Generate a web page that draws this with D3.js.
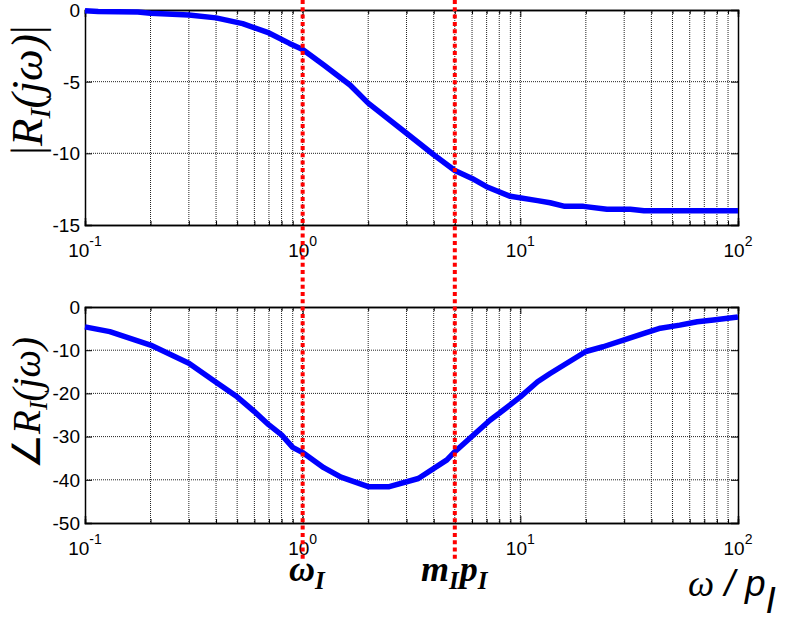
<!DOCTYPE html>
<html><head><meta charset="utf-8">
<script src="https://cdn.jsdelivr.net/npm/d3@7"></script>
<style>body{margin:0;background:#fff}svg{display:block}</style>
</head><body>
<svg id="c" width="793" height="623"></svg>
<script>
// ---- data ----
const magOmega = [0.1,0.115,0.175,0.2,0.3,0.4,0.53,0.7,0.87,1,1.25,1.65,2,3,4,5,6,7,9,12,13.7,16,19.5,25,32,37,100];
const magValues = [-0.05,-0.1,-0.14,-0.23,-0.35,-0.55,-0.95,-1.6,-2.33,-2.75,-3.84,-5.23,-6.5,-8.6,-10.1,-11.2,-11.75,-12.33,-13.0,-13.3,-13.45,-13.7,-13.7,-13.9,-13.9,-14.0,-14.0];
const phaseOmega = [0.1,0.13,0.2,0.27,0.3,0.4,0.5,0.6,0.7,0.8,0.9,1,1.25,1.5,2,2.5,3.4,4.6,5,7.25,8,10,12,13.7,20,24,30,37,44,54,65,77,100];
const phaseValues = [-4.6,-5.7,-8.8,-11.9,-13.0,-17.4,-20.8,-24.2,-27.3,-29.6,-32.5,-33.7,-37.2,-39.4,-41.6,-41.6,-39.7,-35.4,-33.5,-26.2,-24.6,-20.8,-17.3,-15.4,-10.3,-9.2,-7.6,-6.1,-4.9,-4.2,-3.4,-3.0,-2.3];
const magTicks = [0,-5,-10,-15];
const phaseTicks = [0,-10,-20,-30,-40,-50];
const decadeTicks = [0.1,1,10,100];
const decadeExponents = ["-1","0","1","2"];
const markers = [1,5];

const svg = d3.select("#c");
const X0 = 85, X1 = 738;
const x = d3.scaleLog().domain([0.1,100]).range([X0,X1]);
const minor = [];
[0.1,1,10].forEach(d => { for (let k=2;k<=9;k++) minor.push(d*k); });
const sans = "Liberation Sans, Arial, sans-serif";
const serif = "Liberation Serif, Times New Roman, serif";

function panel(yDom, yRange, ticks, omega, vals, labelY) {
  const y = d3.scaleLinear().domain(yDom).range(yRange);
  const g = svg.append("g");
  const top = yRange[1], bot = yRange[0];
  // grid
  g.selectAll(".vg").data(minor.concat([1,10])).enter().append("line")
    .attr("x1",d=>x(d)).attr("x2",d=>x(d)).attr("y1",top).attr("y2",bot)
    .attr("stroke","#222").attr("stroke-width",1).attr("stroke-dasharray","1,1");
  g.selectAll(".hg").data(ticks.slice(1,-1)).enter().append("line")
    .attr("x1",X0).attr("x2",X1).attr("y1",d=>y(d)).attr("y2",d=>y(d))
    .attr("stroke","#222").attr("stroke-width",1).attr("stroke-dasharray","1,1");
  // axes (inward ticks)
  const ab = d3.axisBottom(x).tickValues(minor).tickSize(-4).tickFormat("");
  const abM = d3.axisBottom(x).tickValues(decadeTicks).tickSize(-7).tickFormat("");
  const at = d3.axisTop(x).tickValues(minor).tickSize(-4).tickFormat("");
  const atM = d3.axisTop(x).tickValues(decadeTicks).tickSize(-7).tickFormat("");
  [ab,abM].forEach(a=>g.append("g").attr("transform",`translate(0,${bot})`).call(a));
  [at,atM].forEach(a=>g.append("g").attr("transform",`translate(0,${top})`).call(a));
  const al = d3.axisLeft(y).tickValues(ticks).tickSize(-7).tickFormat("");
  const ar = d3.axisRight(y).tickValues(ticks).tickSize(-7).tickFormat("");
  g.append("g").attr("transform",`translate(${X0},0)`).call(al);
  g.append("g").attr("transform",`translate(${X1},0)`).call(ar);
  g.selectAll(".domain").attr("stroke","#000").attr("stroke-width",1.5);
  g.selectAll(".tick line").attr("stroke","#000");
  // y tick labels
  g.selectAll(".yl").data(ticks).enter().append("text")
    .attr("x",X0-5).attr("y",d=>y(d)).attr("dy","0.36em").attr("text-anchor","end")
    .attr("font-family",sans).attr("font-size",19).text(d=>d);
  // x tick labels
  decadeTicks.forEach((d,i)=>{
    const t = g.append("text").attr("x",x(d)).attr("y",labelY).attr("text-anchor","middle")
      .attr("font-family",sans).attr("font-size",19);
    t.append("tspan").text("10");
    t.append("tspan").attr("font-size",14).attr("dy",-11).text(decadeExponents[i]);
  });
  // curve
  const line = d3.line().x(d=>x(d[0])).y(d=>y(d[1]));
  g.append("path").datum(omega.map((w,i)=>[w,vals[i]])).attr("d",line)
    .attr("fill","none").attr("stroke","#0000ff").attr("stroke-width",5.5).attr("stroke-linejoin","round");
  return y;
}

panel([-15,0],[225,10],magTicks,magOmega,magValues,257);
panel([-50,0],[523,307],phaseTicks,phaseOmega,phaseValues,555);

// red dotted markers
svg.selectAll(".mk").data(markers).enter().append("line")
  .attr("x1",d=>x(d)).attr("x2",d=>x(d)).attr("y1",0).attr("y2",561)
  .attr("stroke","#ff0000").attr("stroke-width",4).attr("stroke-dasharray","4,3.3");

// y axis labels
const l1 = svg.append("text").attr("transform","translate(42,90) rotate(-90)")
  .attr("text-anchor","middle").attr("font-family",serif).attr("font-size",45);
l1.append("tspan").text("|");
l1.append("tspan").attr("font-style","italic").text("R");
l1.append("tspan").attr("font-style","italic").attr("font-size",30).attr("dy",8).text("I");
l1.append("tspan").attr("font-style","italic").attr("dy",-8).text("(j\u03C9)");
l1.append("tspan").text("|");

const l2 = svg.append("text").attr("transform","translate(40,403) rotate(-90)")
  .attr("text-anchor","middle").attr("font-family",serif).attr("font-size",39);
l2.append("tspan").text("\u2220");
l2.append("tspan").attr("font-style","italic").text("R");
l2.append("tspan").attr("font-style","italic").attr("font-size",26).attr("dy",7).text("I");
l2.append("tspan").attr("font-style","italic").attr("dy",-7).text("(j\u03C9)");

// marker annotations
const a1 = svg.append("text").attr("x",289).attr("y",581).attr("font-family",serif)
  .attr("font-weight","bold").attr("font-style","italic").attr("font-size",36);
a1.append("tspan").text("\u03C9");
a1.append("tspan").attr("font-size",25).attr("dy",8).text("I");
const a2 = svg.append("text").attr("x",421).attr("y",581).attr("font-family",serif)
  .attr("font-weight","bold").attr("font-style","italic").attr("font-size",36);
a2.append("tspan").text("m");
a2.append("tspan").attr("font-size",25).attr("dy",8).text("I");
a2.append("tspan").attr("dy",-8).attr("dx",1).text("p");
a2.append("tspan").attr("font-size",25).attr("dy",8).text("I");

// x axis label
const xl = svg.append("text").attr("x",688).attr("y",596).attr("font-size",37);
xl.append("tspan").attr("font-family",serif).attr("font-style","italic").text("\u03C9");
xl.append("tspan").attr("font-family",sans).attr("font-style","italic").text(" / p");
xl.append("tspan").attr("font-family",sans).attr("font-style","italic").attr("dy",17).text("I");
</script>
</body></html>
